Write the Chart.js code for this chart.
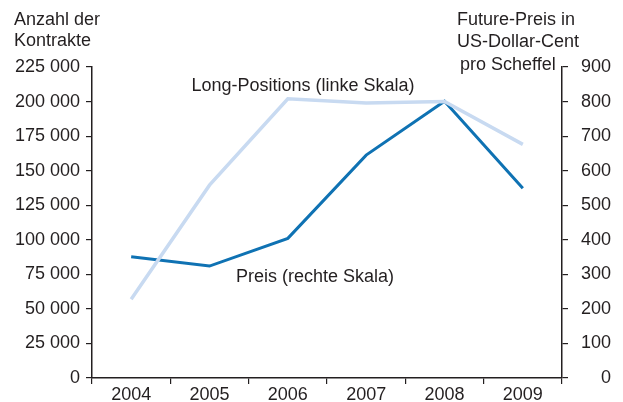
<!DOCTYPE html>
<html>
<head>
<meta charset="utf-8">
<script src="https://cdn.jsdelivr.net/npm/chart.js@4.4.0/dist/chart.umd.min.js"></script>
<style>
  html, body { margin: 0; padding: 0; background: #fff; }
  #wrap { width: 623px; height: 402px; }
</style>
</head>
<body>
<div id="wrap"><canvas id="chart"></canvas></div>
<script>
var years = ["2004", "2005", "2006", "2007", "2008", "2009"];
var longPositions = [57000, 139500, 202000, 199000, 200000, 169000];
var preis = [351, 324, 404, 645, 801, 549];
var leftTicks = [0, 25000, 50000, 75000, 100000, 125000, 150000, 175000, 200000, 225000];
var rightTicks = [0, 100, 200, 300, 400, 500, 600, 700, 800, 900];

var leftTitle = ["Anzahl der", "Kontrakte"];
var rightTitle = ["Future-Preis in", "US-Dollar-Cent", "pro Scheffel"];

var ink = "#231f20";
var fontFamily = "'Liberation Sans', Arial, Helvetica, sans-serif";

function fmt(v) {
  return String(v).replace(/\B(?=(\d{3})+(?!\d))/g, " ");
}

// Achsentitel und Linienbeschriftungen
var labelsPlugin = {
  id: "labels",
  afterDraw: function (chart) {
    var ctx = chart.ctx;
    var area = chart.chartArea;
    ctx.save();
    ctx.fillStyle = ink;
    ctx.font = "18px " + fontFamily;
    ctx.textBaseline = "alphabetic";
    ctx.textAlign = "left";
    ctx.fillText(leftTitle[0], 14, 25);
    ctx.fillText(leftTitle[1], 14, 46);
    ctx.fillText(rightTitle[0], 457, 25);
    ctx.fillText(rightTitle[1], 457, 47);
    ctx.fillText(rightTitle[2], 460, 70);

    ctx.textAlign = "center";
    ctx.fillText("Long-Positions (linke Skala)", area.left + 211, 91);
    ctx.fillText("Preis (rechte Skala)", area.left + 223, 282);
    ctx.restore();
  }
};

var ctx = document.getElementById("chart").getContext("2d");
var myChart = new Chart(ctx, {
  type: "line",
  data: {
    labels: years,
    datasets: [{
      label: "Long-Positions (linke Skala)",
      data: longPositions,
      yAxisID: "y",
      borderColor: "#c8daf1",
      borderWidth: 3.5,
      pointRadius: 0,
      borderJoinStyle: "miter",
      tension: 0
    }, {
      label: "Preis (rechte Skala)",
      data: preis,
      yAxisID: "y1",
      borderColor: "#0f72b3",
      borderWidth: 3,
      pointRadius: 0,
      borderJoinStyle: "miter",
      tension: 0
    }]
  },
  options: {
    responsive: true,
    maintainAspectRatio: false,
    animation: false,
    events: [],
    layout: { padding: { top: 67, left: 0, right: 12, bottom: 0 } },
    plugins: {
      legend: { display: false },
      tooltip: { enabled: false }
    },
    scales: {
      x: {
        offset: true,
        grid: { offset: true, drawOnChartArea: false, drawTicks: true, tickLength: 6, color: ink, lineWidth: 1.2 },
        border: { color: ink, width: 1.5 },
        ticks: { color: ink, padding: 0, font: { size: 18, family: fontFamily }, maxRotation: 0 },
        afterFit: function (s) { s.height = 24; }
      },
      y: {
        position: "left",
        min: 0,
        max: 225000,
        afterBuildTicks: function (s) { s.ticks = leftTicks.map(function (v) { return { value: v }; }); },
        grid: { drawOnChartArea: false, drawTicks: true, tickLength: 6, color: ink, lineWidth: 1.2 },
        border: { color: ink, width: 1.5 },
        ticks: {
          color: ink, padding: 6, font: { size: 18, family: fontFamily },
          callback: function (v) { return fmt(v); }
        },
        afterFit: function (s) { s.width = 92; }
      },
      y1: {
        position: "right",
        min: 0,
        max: 900,
        afterBuildTicks: function (s) { s.ticks = rightTicks.map(function (v) { return { value: v }; }); },
        grid: { drawOnChartArea: false, drawTicks: true, tickLength: 6, color: ink, lineWidth: 1.2 },
        border: { color: ink, width: 1.5 },
        ticks: { color: ink, padding: 10, crossAlign: "far", font: { size: 18, family: fontFamily } },
        afterFit: function (s) { s.width = 49; }
      }
    }
  },
  plugins: [labelsPlugin]
});
</script>
</body>
</html>
